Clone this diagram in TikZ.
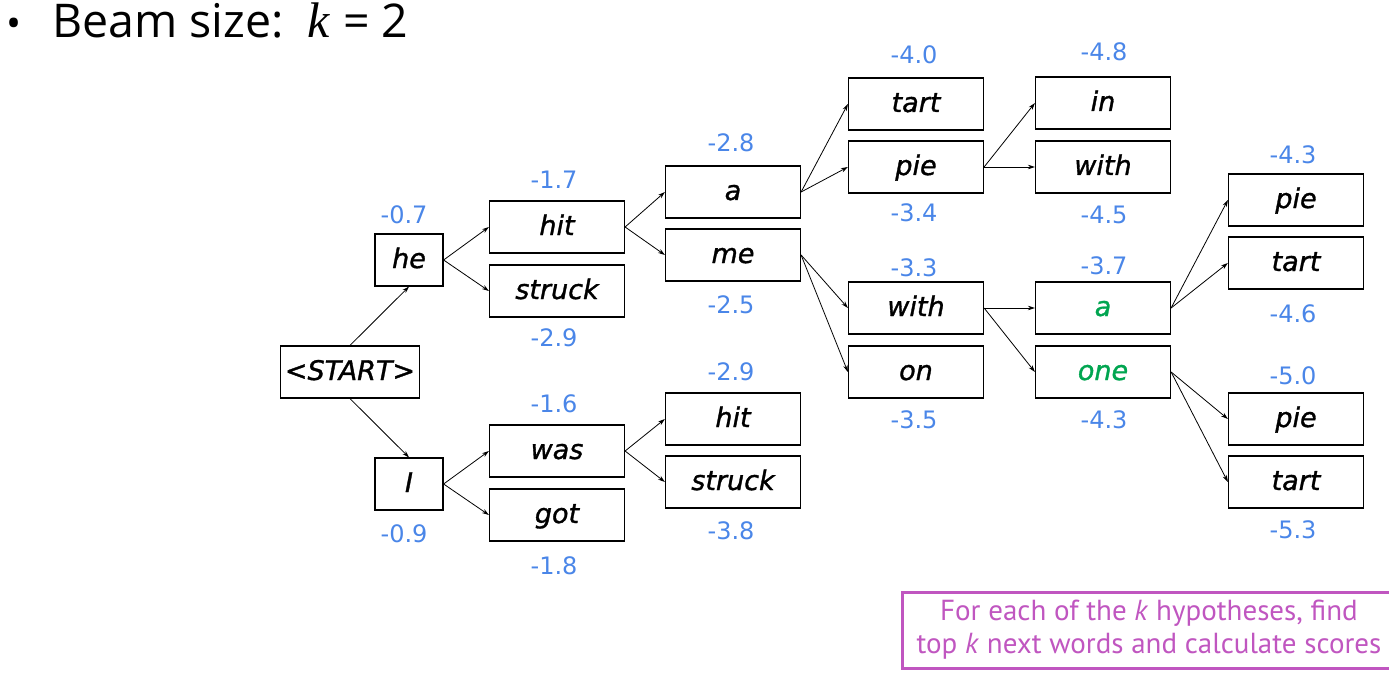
\documentclass[tikz,border=0pt]{standalone}
\usepackage{fontspec}
\setmainfont{Open Sans}
\newfontfamily\wordfont[ItalicFeatures={FakeBold=1.2}]{DejaVu Sans}
\newfontfamily\scorefont{DejaVu Sans}
\newfontfamily\notefont{PT Sans}
\newfontfamily\kfont{Liberation Serif}
\usetikzlibrary{arrows.meta}
\definecolor{scoreblue}{HTML}{4A86E8}
\definecolor{beamgreen}{HTML}{00A550}
\definecolor{notepurple}{HTML}{C056C0}
\tikzset{
  wbox/.style={draw, line width=1.2pt, minimum width=135pt, minimum height=52pt,
    inner sep=0pt, text height=20pt, text depth=4pt,
    font=\wordfont\fontsize{27}{30}\selectfont\itshape},
  sbox/.style={wbox, minimum width=68pt},
  score/.style={text=scoreblue, inner sep=0pt, text height=18pt, text depth=0pt,
    font=\scorefont\fontsize{24}{28}\selectfont},
  arr/.style={-{Stealth[length=7pt,width=4.5pt]}, line width=0.8pt}
}
\begin{document}
\begin{tikzpicture}[x=1pt,y=-1pt]
\useasboundingbox (0,0) rectangle (1389,679);
% title
\node[anchor=base west, inner sep=0pt, font=\fontsize{40}{44}\selectfont] (bullet) at (6,38) {\textbullet};
\node[anchor=base west, inner sep=0pt, font=\fontsize{46.5}{50}\selectfont] (title) at (52,38)
  {Beam size:\hspace{0.5em}{\kfont\itshape\fontsize{50}{50}\selectfont k}\hspace{0.3em}= 2};
% boxes
\node[wbox, minimum width=139pt] (start) at (350,372) {<START>};
\node[sbox] (he) at (409,260) {he};
\node[sbox] (I) at (409,484) {I};
\node[wbox] (hit) at (557,227) {hit};
\node[wbox] (struck) at (557,291) {struck};
\node[wbox] (was) at (557,451) {was};
\node[wbox] (got) at (557,515) {got};
\node[wbox] (a1) at (733,192) {a};
\node[wbox] (me) at (733,255) {me};
\node[wbox] (hit2) at (733,419) {hit};
\node[wbox] (struck2) at (733,482) {struck};
\node[wbox] (tart1) at (916,104) {tart};
\node[wbox] (pie1) at (916,167) {pie};
\node[wbox] (with1) at (916,308) {with};
\node[wbox] (on) at (916,372) {on};
\node[wbox] (in) at (1103,103) {in};
\node[wbox] (with2) at (1103,167) {with};
\node[wbox, text=beamgreen] (a2) at (1103,308) {a};
\node[wbox, text=beamgreen] (one) at (1103,372) {one};
\node[wbox] (pie3) at (1296,200) {pie};
\node[wbox] (tart3) at (1296,263) {tart};
\node[wbox] (pie4) at (1296,419) {pie};
\node[wbox] (tart4) at (1296,482) {tart};
% scores
\node[score] (s-he) at (404,214) {-0.7};
\node[score] (s-I) at (404,533) {-0.9};
\node[score] (s-hit) at (554,180) {-1.7};
\node[score] (s-struck) at (554,337) {-2.9};
\node[score] (s-was) at (554,403) {-1.6};
\node[score] (s-got) at (554,565) {-1.8};
\node[score] (s-a1) at (731,143) {-2.8};
\node[score] (s-me) at (731,304) {-2.5};
\node[score] (s-hit2) at (731,371) {-2.9};
\node[score] (s-struck2) at (731,530) {-3.8};
\node[score] (s-tart1) at (914,55) {-4.0};
\node[score] (s-pie1) at (914,213) {-3.4};
\node[score] (s-with1) at (914,267) {-3.3};
\node[score] (s-on) at (914,419) {-3.5};
\node[score] (s-in) at (1104,52) {-4.8};
\node[score] (s-with2) at (1104,214) {-4.5};
\node[score] (s-a2) at (1104,265) {-3.7};
\node[score] (s-one) at (1104,419) {-4.3};
\node[score] (s-pie3) at (1293,155) {-4.3};
\node[score] (s-tart3) at (1293,313) {-4.6};
\node[score] (s-pie4) at (1293,375) {-5.0};
\node[score] (s-tart4) at (1293,529) {-5.3};
% connectors
\draw[arr] (start.north) -- (he.south);
\draw[arr] (start.south) -- (I.north);
\draw[arr] (he.east) -- (hit.west);
\draw[arr] (he.east) -- (struck.west);
\draw[arr] (I.east) -- (was.west);
\draw[arr] (I.east) -- (got.west);
\draw[arr] (hit.east) -- (a1.west);
\draw[arr] (hit.east) -- (me.west);
\draw[arr] (was.east) -- (hit2.west);
\draw[arr] (was.east) -- (struck2.west);
\draw[arr] (a1.east) -- (tart1.west);
\draw[arr] (a1.east) -- (pie1.west);
\draw[arr] (me.east) -- (with1.west);
\draw[arr] (me.east) -- (on.west);
\draw[arr] (pie1.east) -- (in.west);
\draw[arr] (pie1.east) -- (with2.west);
\draw[arr] (with1.east) -- (a2.west);
\draw[arr] (with1.east) -- (one.west);
\draw[arr] (a2.east) -- (pie3.west);
\draw[arr] (a2.east) -- (tart3.west);
\draw[arr] (one.east) -- (pie4.west);
\draw[arr] (one.east) -- (tart4.west);
% note
\node[draw=notepurple, line width=3pt, minimum width=494pt, minimum height=76pt,
  inner sep=0pt, text=notepurple, align=center,
  font=\notefont\fontsize{29}{33}\selectfont] (note) at (1149,630)
  {For each of the \textit{k} hypotheses, find\\top \textit{k} next words and calculate scores};
\end{tikzpicture}
\end{document}
